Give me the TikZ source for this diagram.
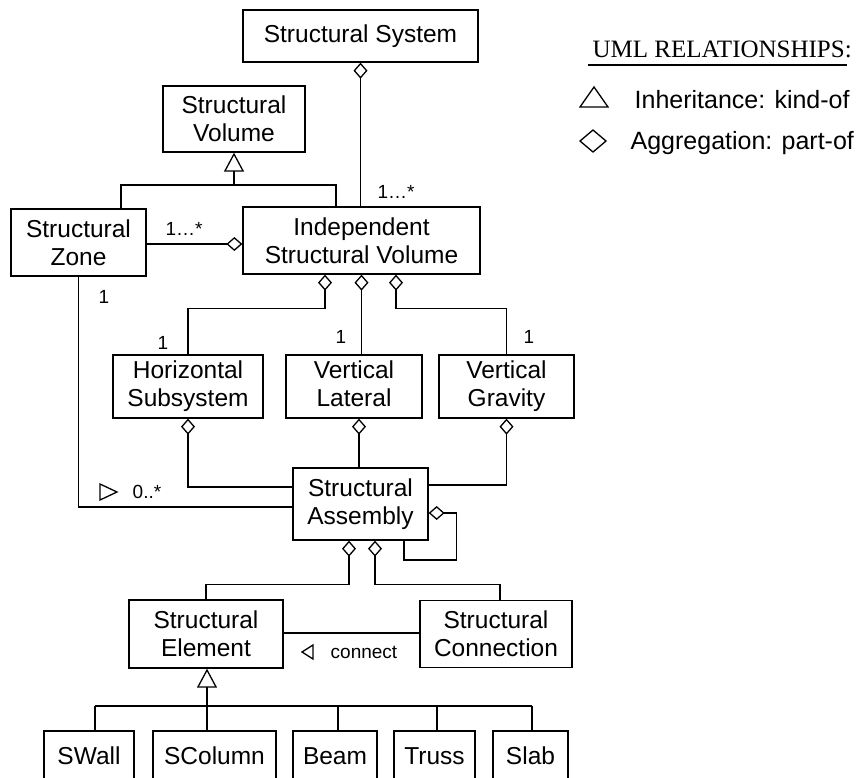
\documentclass[tikz,border=0pt]{standalone}
\usepackage{fontspec}
\setmainfont{Liberation Sans}
\newfontfamily\legendtitlefont{Liberation Serif}
\usetikzlibrary{arrows.meta,calc}
\begin{document}
\begin{tikzpicture}[x=1pt,y=-1pt,
  line width=1.3pt,
  cls/.style={draw, line width=1.3pt, inner sep=0pt, align=center,
    font=\fontsize{24.5}{28}\selectfont},
  lbl/.style={inner sep=0pt, font=\fontsize{19}{22}\selectfont},
  legendtext/.style={inner sep=0pt, anchor=west, font=\fontsize{25}{28}\selectfont},
  agg/.style={{Diamond[open,length=16pt,width=14pt]}-},
  inh/.style={-{Triangle[open,length=19pt,width=20pt]}},
]
\useasboundingbox (0,0) rectangle (866,777);
\clip (0,0) rectangle (866,777);

% helper rows
\coordinate (r244) at (0,244);
\coordinate (r485) at (0,485);
\coordinate (r487) at (0,487);
\coordinate (r507) at (0,507);
\coordinate (r633) at (0,633);

% classes
\node[cls, minimum width=235pt, minimum height=52pt] (ss)   at (360.5,36)  {Structural System};
\node[cls, minimum width=142pt, minimum height=66pt] (sv)   at (234,119)   {Structural\\Volume};
\node[cls, minimum width=135pt, minimum height=67pt] (zone) at (78.5,242.5) {Structural\\Zone};
\node[cls, minimum width=237pt, minimum height=67pt] (isv)  at (361.5,240.5) {Independent\\Structural Volume};
\node[cls, minimum width=150pt, minimum height=63pt] (hs)   at (188,386.5) {Horizontal\\Subsystem};
\node[cls, minimum width=136pt, minimum height=63pt] (vl)   at (354,386.5) {Vertical\\Lateral\vphantom{y}};
\node[cls, minimum width=135pt, minimum height=63pt] (vg)   at (506.5,386.5) {Vertical\\Gravity};
\node[cls, minimum width=135pt, minimum height=72pt] (asm)  at (360.5,504) {Structural\\Assembly};
\node[cls, minimum width=154pt, minimum height=68pt] (se)   at (206,634)   {Structural\\Element};
\node[cls, minimum width=152pt, minimum height=67pt] (sc)   at (496,634)   {Structural\\Connection};

% leaf classes (their lower edges run past the page)
\node[cls, minimum width=90pt,  minimum height=50pt] (swall) at (89,756)    {SWall};
\node[cls, minimum width=123pt, minimum height=50pt] (scol)  at (214.5,756) {SColumn};
\node[cls, minimum width=84pt,  minimum height=50pt] (beam)  at (335,756)   {Beam};
\node[cls, minimum width=81pt,  minimum height=50pt] (truss) at (434.5,756) {Truss};
\node[cls, minimum width=75pt,  minimum height=50pt] (slab)  at (530.5,756) {Slab};

% system -> independent volume
\draw[agg] (ss.south) -- (ss.south |- isv.north);
\node[lbl] (m1) at (396,192) {1…*};

% structural volume generalisation
\coordinate (hb) at (234,185);
\draw[inh] (hb) -- (sv.south);
\draw ($(zone.north)+(42.5,0)$) |- (hb) -| ($(isv.north)+(-25.5,0)$);

% zone -- independent volume
\draw[agg] (isv.west |- r244) -- (zone.east |- r244);
\node[lbl] (m2) at (184,229) {1…*};

% independent volume -> subsystems
\draw[agg] ($(isv.south)+(-36.5,0)$) -- ++(0,34) -| (hs.north);
\draw[agg] (isv.south) -- (isv.south |- vl.north);
\draw[agg] ($(isv.south)+(34.5,0)$) -- ++(0,34) -| (vg.north);
\node[lbl] (m3) at (104,297) {1};
\node[lbl] (m4) at (163,343) {1};
\node[lbl] (m5) at (341,337) {1};
\node[lbl] (m6) at (529,337) {1};

% subsystems -> assembly
\coordinate (vlb) at ($(vl.south)+(5,0)$);
\draw[agg] (hs.south) |- (asm.west |- r487);
\draw[agg] (vlb) -- (vlb |- asm.north);
\draw[agg] (vg.south) |- (asm.east |- r485);

% zone -- assembly
\draw (zone.south) |- (asm.west |- r507);
\draw (100,484) -- (117,492) -- (100,500) -- cycle;
\node[lbl] (m7) at (147,492) {0..*};

% assembly self aggregation
\coordinate (sa) at ($(asm.east)+(0,9)$);
\draw[agg] (sa) -- ++(28,0) -- ++(0,47) -| ($(asm.south)+(43.5,0)$);

% assembly -> element / connection
\draw[agg] ($(asm.south)+(-11.5,0)$) -- ++(0,44) -| (se.north);
\draw[agg] ($(asm.south)+(14.5,0)$) -- ++(0,44) -| ($(sc.north)+(4,0)$);

% connect association
\draw (se.east |- r633) -- (sc.west |- r633);
\draw (313,645) -- (302,652) -- (313,659) -- cycle;
\node[lbl] (m8) at (364,652) {connect};

% element specialisations
\coordinate (d1) at (95,706);
\coordinate (d2) at (207,706);
\coordinate (d3) at (338,706);
\coordinate (d4) at (437,706);
\coordinate (d5) at (532,706);
\draw[inh] (d2) -- (d2 |- se.south);
\draw (d1) -- (d5);
\draw (d1) -- (d1 |- swall.north);
\draw (d2) -- (d2 |- scol.north);
\draw (d3) -- (d3 |- beam.north);
\draw (d4) -- (d4 |- truss.north);
\draw (d5) -- (d5 |- slab.north);

% legend
\node[inner sep=0pt, anchor=base west, font=\legendtitlefont\fontsize{25}{28}\selectfont]
  (ltitle) at (592,57) {UML RELATIONSHIPS:};
\draw ($(ltitle.base west)+(-4,8)$) -- ($(ltitle.base east)+(-5,8)$);
\draw (580,107) -- (594,87) -- (608,107) -- cycle;
\node[legendtext] (linh) at (634,100) {Inheritance: kind-of};
\draw (580,141) -- (593,130) -- (606,141) -- (593,152) -- cycle;
\node[legendtext] (lagg) at (630,143) {Aggregation: part-of};
\end{tikzpicture}
\end{document}
